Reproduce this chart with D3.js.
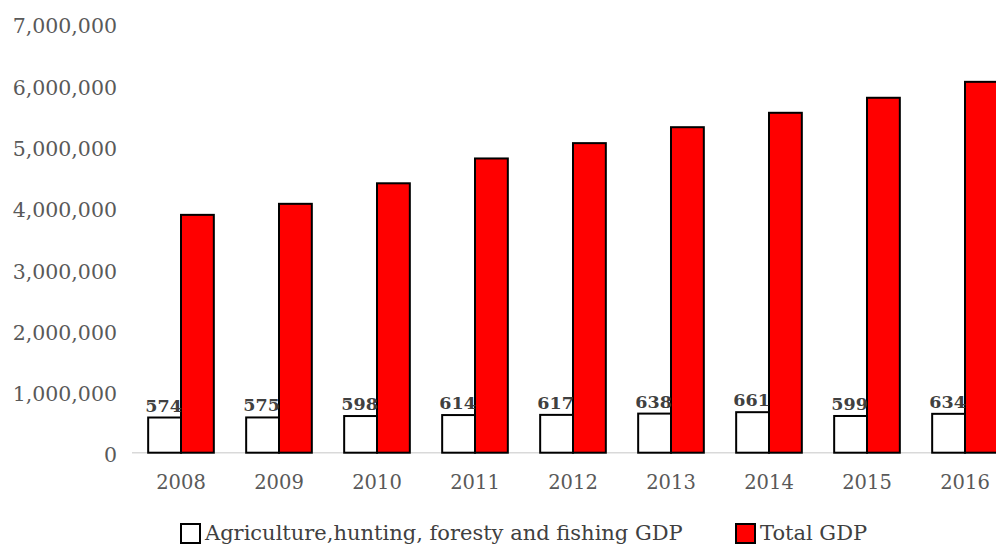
<!DOCTYPE html>
<html>
<head>
<meta charset="utf-8">
<script src="https://cdn.jsdelivr.net/npm/d3@7"></script>
<style>
  body { margin: 0; background: #fff; }
  svg { display: block; font-family: "DejaVu Serif", serif; }
</style>
</head>
<body>
<svg id="chart" width="996" height="546"></svg>
<script>
const years = ["2008", "2009", "2010", "2011", "2012", "2013", "2014", "2015", "2016"];
const agriGdp = [574000, 575000, 598000, 614000, 617000, 638000, 661000, 599000, 634000];
const totalGdp = [3880000, 4060000, 4395000, 4800000, 5050000, 5310000, 5545000, 5790000, 6050000];
const yTicks = [0, 1000000, 2000000, 3000000, 4000000, 5000000, 6000000, 7000000];
const seriesNames = ["Agriculture,hunting, foresty and fishing GDP", "Total GDP"];
const seriesColors = ["#ffffff", "#ff0000"];

const svg = d3.select("#chart");
const margin = {left: 132, right: -18, top: 23.6, bottom: 93.3};
const width = 996, height = 546;

const x = d3.scaleBand()
    .domain(years)
    .range([margin.left, width - margin.right])
    .paddingInner(0.33)
    .paddingOuter(0.165);

const sub = d3.scaleBand()
    .domain([0, 1])
    .range([0, x.bandwidth()]);

const y = d3.scaleLinear()
    .domain([0, 7000000])
    .range([height - margin.bottom, margin.top]);

// y axis labels, no line
const yAxis = svg.append("g")
    .attr("transform", `translate(117,0)`)
    .call(d3.axisLeft(y).tickValues(yTicks).tickFormat(d3.format(",")).tickSize(0).tickPadding(0));
yAxis.select(".domain").remove();
yAxis.selectAll("text")
    .attr("fill", "#595959")
    .attr("dy", "0.45em")
    .style("font-size", "20.5px")
    .style("font-family", "DejaVu Serif, serif");

// baseline
svg.append("line")
    .attr("x1", margin.left).attr("x2", width)
    .attr("y1", y(0)).attr("y2", y(0))
    .attr("stroke", "#d9d9d9").attr("stroke-width", 1.5);

const groups = svg.selectAll(".yr")
    .data(years)
    .join("g")
    .attr("class", "yr")
    .attr("transform", d => `translate(${x(d)},0)`);

// bars
groups.append("rect")
    .attr("x", sub(0))
    .attr("width", sub.bandwidth())
    .attr("y", (d, i) => y(agriGdp[i]))
    .attr("height", (d, i) => y(0) - y(agriGdp[i]))
    .attr("fill", seriesColors[0])
    .attr("stroke", "#000").attr("stroke-width", 2);

groups.append("rect")
    .attr("x", sub(1))
    .attr("width", sub.bandwidth())
    .attr("y", (d, i) => y(totalGdp[i]))
    .attr("height", (d, i) => y(0) - y(totalGdp[i]))
    .attr("fill", seriesColors[1])
    .attr("stroke", "#000").attr("stroke-width", 2);

// data labels (thousands)
groups.append("text")
    .attr("x", sub(0) + sub.bandwidth() / 2 - 1)
    .attr("y", (d, i) => y(agriGdp[i]) - 6)
    .attr("text-anchor", "middle")
    .attr("fill", "#404040")
    .style("font-size", "17.5px")
    .style("font-weight", "bold")
    .text((d, i) => Math.round(agriGdp[i] / 1000));

// x labels
groups.append("text")
    .attr("x", x.bandwidth() / 2)
    .attr("y", 489)
    .attr("text-anchor", "middle")
    .attr("fill", "#595959")
    .style("font-size", "19.5px")
    .text(d => d);

// legend
const legend = svg.append("g");
const legendX = [181, 736];
seriesNames.forEach((name, i) => {
    const g = legend.append("g").attr("transform", `translate(${legendX[i]},524)`);
    g.append("rect")
        .attr("width", 19).attr("height", 19)
        .attr("fill", seriesColors[i])
        .attr("stroke", "#000").attr("stroke-width", 2);
    g.append("text")
        .attr("x", 24).attr("y", 16)
        .attr("fill", "#404040")
        .style("font-size", "21px")
        .text(name);
});
</script>
</body>
</html>
